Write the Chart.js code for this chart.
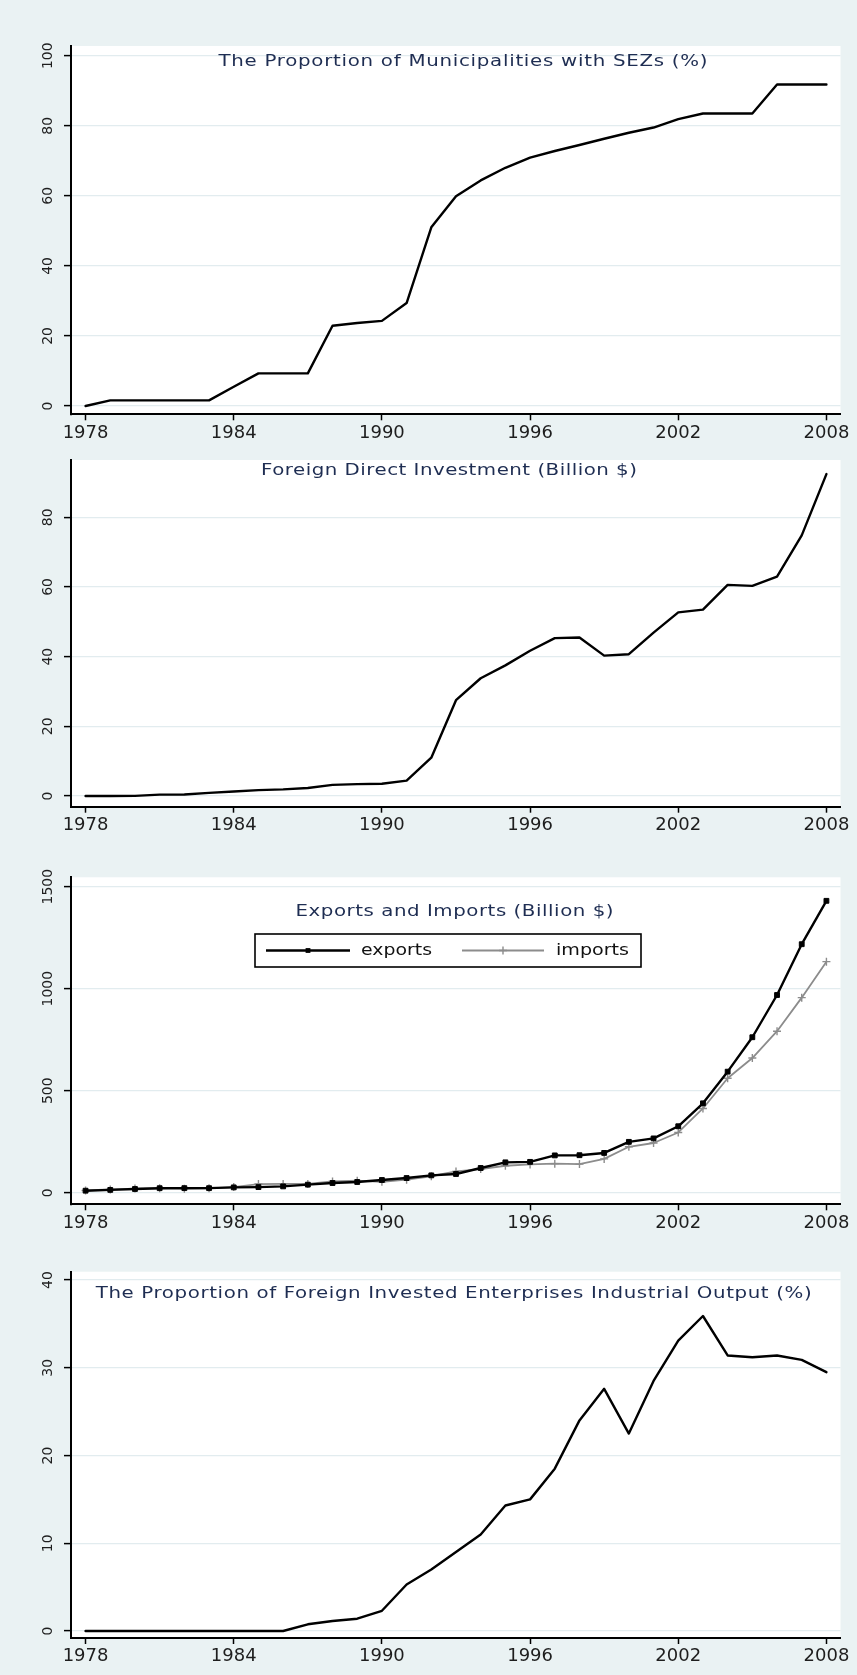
<!DOCTYPE html>
<html>
<head>
<meta charset="utf-8">
<title>SEZs, FDI, Trade and FIE Output, 1978-2008</title>
<script src="https://cdn.jsdelivr.net/npm/chart.js@4.4.1/dist/chart.umd.min.js"></script>
<style>
  html, body { margin:0; padding:0; background:#eaf2f3; }
  #page { position:relative; width:857px; height:1675px; background:#eaf2f3; overflow:hidden; }
  .panel { position:absolute; left:0; width:857px; }
  .panel canvas { display:block; }
</style>
</head>
<body>
<div id="page">
  <div class="panel" style="top:0px;height:450px"><canvas id="p1"></canvas></div>
  <div class="panel" style="top:450px;height:395px"><canvas id="p2"></canvas></div>
  <div class="panel" style="top:845px;height:405px"><canvas id="p3"></canvas></div>
  <div class="panel" style="top:1250px;height:425px"><canvas id="p4"></canvas></div>
</div>
<script>
// ---------------- data ----------------
const years = [1978,1979,1980,1981,1982,1983,1984,1985,1986,1987,1988,1989,1990,1991,1992,1993,1994,1995,1996,1997,1998,1999,2000,2001,2002,2003,2004,2005,2006,2007,2008];
const xTickYears = [1978,1984,1990,1996,2002,2008];

const sezShare = [0,1.6,1.6,1.6,1.6,1.6,5.5,9.3,9.3,9.3,22.9,23.7,24.3,29.4,51.0,59.9,64.4,68.0,70.9,72.8,74.5,76.3,78.0,79.5,81.9,83.5,83.5,83.5,91.8,91.8,91.8];
const fdiBillion = [0,0,0.05,0.4,0.45,0.9,1.3,1.7,1.9,2.3,3.2,3.4,3.5,4.4,11.0,27.5,33.8,37.5,41.7,45.3,45.5,40.3,40.7,46.9,52.7,53.5,60.6,60.3,63.0,74.8,92.4];
const exportsBillion = [9.8,13.7,18.1,22.0,22.3,22.2,26.1,27.4,30.9,39.4,47.5,52.5,62.1,71.8,84.9,91.7,121.0,148.8,151.1,182.8,183.7,194.9,249.2,266.1,325.6,438.2,593.3,762.0,969.0,1218.0,1430.7];
const importsBillion = [10.9,15.7,20.0,22.0,19.3,21.4,27.4,42.3,42.9,43.2,55.3,59.1,53.3,63.8,80.6,104.0,115.6,132.1,138.8,142.4,140.2,165.7,225.1,243.6,295.2,412.8,561.2,660.0,791.5,956.1,1132.6];
const fieOutputShare = [0,0,0,0,0,0,0,0,0,0.76,1.14,1.4,2.3,5.3,7.0,9.0,11.0,14.3,15.0,18.5,24.0,27.6,22.5,28.5,33.1,35.9,31.4,31.2,31.4,30.9,29.5];

const sezTicks = [0,20,40,60,80,100];
const fdiTicks = [0,20,40,60,80];
const tradeTicks = [0,500,1000,1500];
const fieTicks = [0,10,20,30,40];

const panelTitles = [
  "The Proportion of Municipalities with SEZs (%)",
  "Foreign Direct Investment (Billion $)",
  "Exports and Imports (Billion $)",
  "The Proportion of Foreign Invested Enterprises Industrial Output (%)"
];
const tradeSeriesNames = ["exports", "imports"];

// ---------------- style ----------------
const FONT = '"DejaVu Sans", "Liberation Sans", sans-serif';
const STYLE = {
  plot: '#ffffff', grid: '#e2ecef', axis: '#000000', title: '#1e2d52', tick: '#1e1e1e',
  xMin: 1977.41, xMax: 2008.57, plotLeft: 71, plotRight: 840.5, width: 857,
  yLabelCenter: 48, yTickLen: 7, yFont: 14, xFont: 18, titleFont: 16.5, legendFont: 16, maxStretch: 1.2
};

const mctx = document.createElement('canvas').getContext('2d');
function textWidth(t, size) { mctx.font = size + 'px ' + FONT; return mctx.measureText(t).width; }

function toPoints(arr) { return years.map((yr, i) => ({ x: yr, y: arr[i] })); }

function drawFitted(ctx, text, cx, cy, targetW, font, color) {
  ctx.save();
  ctx.font = font;
  ctx.fillStyle = color;
  ctx.textBaseline = 'middle';
  ctx.textAlign = 'left';
  const base = ctx.measureText(text).width;
  let sx = Math.min(STYLE.maxStretch, targetW / base);
  if ('letterSpacing' in ctx) {
    const ls = (targetW / sx - base) / Math.max(1, text.length - 1);
    ctx.letterSpacing = ls.toFixed(2) + 'px';
  } else {
    sx = targetW / base;
  }
  ctx.translate(cx - targetW / 2, cy);
  ctx.scale(sx, 1);
  ctx.fillText(text, 0, 0);
  ctx.restore();
}

function drawLegend(chart, L) {
  const ctx = chart.ctx;
  ctx.save();
  ctx.fillStyle = '#ffffff';
  ctx.fillRect(L.x, L.y, L.w, L.h);
  ctx.lineWidth = 1.6;
  ctx.strokeStyle = '#000000';
  ctx.strokeRect(L.x, L.y, L.w, L.h);
  const cy = L.y + L.h / 2;
  chart.data.datasets.forEach((ds, i) => {
    const it = L.items[i];
    ctx.beginPath();
    ctx.strokeStyle = ds.borderColor;
    ctx.lineWidth = ds.borderWidth;
    ctx.moveTo(it.x0, cy); ctx.lineTo(it.x1, cy);
    ctx.stroke();
    const mx = (it.x0 + it.x1) / 2;
    if (ds.pointStyle === 'rect') {
      const s = ds.pointRadius * Math.SQRT2;
      ctx.fillStyle = ds.pointBackgroundColor;
      ctx.fillRect(mx - s / 2, cy - s / 2, s, s);
    } else if (ds.pointStyle === 'cross') {
      const r = ds.pointRadius;
      ctx.beginPath();
      ctx.strokeStyle = ds.pointBorderColor;
      ctx.lineWidth = ds.pointBorderWidth;
      ctx.moveTo(mx - r, cy); ctx.lineTo(mx + r, cy);
      ctx.moveTo(mx, cy - r); ctx.lineTo(mx, cy + r);
      ctx.stroke();
    }
    drawFitted(ctx, ds.label, it.tx + it.tw / 2, cy, it.tw, STYLE.legendFont + 'px ' + FONT, '#111111');
  });
  ctx.restore();
}

const decor = {
  id: 'decor',
  beforeDraw(chart, args, o) {
    const { ctx, chartArea: a } = chart;
    ctx.save();
    ctx.fillStyle = STYLE.plot;
    ctx.fillRect(a.left, a.top, a.right - a.left, a.bottom - a.top);
    ctx.restore();
  },
  afterDraw(chart, args, o) {
    if (o.title) drawFitted(chart.ctx, o.title, o.titleX, o.titleY, o.titleW, STYLE.titleFont + 'px ' + FONT, STYLE.title);
    if (o.legend) drawLegend(chart, o.legend);
  }
};

function makePanel(p) {
  const widest = Math.max(...p.yTicks.map(v => textWidth(String(v), STYLE.yFont)));
  const yPad = STYLE.plotLeft - STYLE.yTickLen - STYLE.yLabelCenter - widest / 2;
  return new Chart(document.getElementById(p.id), {
    type: 'line',
    data: { datasets: p.datasets },
    options: {
      responsive: true,
      maintainAspectRatio: false,
      animation: false,
      events: [],
      layout: { autoPadding: false, padding: { top: p.plotTop, right: STYLE.width - STYLE.plotRight, left: 0, bottom: 0 } },
      plugins: {
        legend: { display: false },
        tooltip: { enabled: false },
        title: { display: false },
        decor: { title: p.title, titleX: p.titleX, titleY: p.titleY, titleW: p.titleW, legend: p.legend || null }
      },
      elements: { line: { tension: 0, borderJoinStyle: 'round', borderCapStyle: 'round' } },
      scales: {
        x: {
          type: 'linear', min: STYLE.xMin, max: STYLE.xMax,
          afterBuildTicks: s => { s.ticks = xTickYears.map(v => ({ value: v })); },
          afterFit: s => { s.height = p.h - p.axisY; s.paddingLeft = 0; s.paddingRight = 0; },
          grid: { drawOnChartArea: false, drawTicks: true, tickLength: 6, tickColor: STYLE.axis, tickWidth: 1.5 },
          border: { display: true, color: STYLE.axis, width: 2 },
          ticks: { autoSkip: false, maxRotation: 0, minRotation: 0, padding: 2, color: STYLE.tick,
                   font: { family: FONT, size: STYLE.xFont }, callback: v => String(v) }
        },
        y: {
          type: 'linear', min: p.yMin, max: p.yMax,
          afterBuildTicks: s => { s.ticks = p.yTicks.map(v => ({ value: v })); },
          afterFit: s => { s.width = STYLE.plotLeft; s.paddingTop = 0; s.paddingBottom = 0; },
          grid: { color: STYLE.grid, lineWidth: 1.2, drawTicks: true, tickLength: STYLE.yTickLen, tickColor: STYLE.axis, tickWidth: 1.5 },
          border: { display: true, color: STYLE.axis, width: 2 },
          ticks: { autoSkip: false, minRotation: 90, maxRotation: 90, crossAlign: 'center', padding: yPad,
                   color: STYLE.tick, font: { family: FONT, size: STYLE.yFont }, callback: v => String(v) }
        }
      }
    },
    plugins: [decor]
  });
}

function singleLine(label, arr) {
  return { label: label, data: toPoints(arr), borderColor: '#000000', borderWidth: 2.4, pointRadius: 0, fill: false };
}

makePanel({
  id: 'p1', h: 450, plotTop: 46, axisY: 414.3, yMin: -2.37, yMax: 102.77, yTicks: sezTicks,
  title: panelTitles[0], titleX: 463, titleY: 61.7, titleW: 489,
  datasets: [singleLine(panelTitles[0], sezShare)]
});

makePanel({
  id: 'p2', h: 395, plotTop: 10, axisY: 356.7, yMin: -3.07, yMax: 96.44, yTicks: fdiTicks,
  title: panelTitles[1], titleX: 449, titleY: 21, titleW: 376,
  datasets: [singleLine(panelTitles[1], fdiBillion)]
});

makePanel({
  id: 'p3', h: 405, plotTop: 32.3, axisY: 359.3, yMin: -56.9, yMax: 1546, yTicks: tradeTicks,
  title: panelTitles[2], titleX: 454.5, titleY: 66.7, titleW: 318,
  legend: { x: 255, y: 89, w: 386, h: 33,
            items: [ { x0: 266, x1: 350, tx: 361, tw: 71 }, { x0: 462, x1: 544, tx: 556, tw: 73 } ] },
  datasets: [
    { label: tradeSeriesNames[0], data: toPoints(exportsBillion), borderColor: '#000000', borderWidth: 2.4,
      pointStyle: 'rect', pointRadius: 3.4, pointBackgroundColor: '#000000', pointBorderColor: '#000000', pointBorderWidth: 1, fill: false },
    { label: tradeSeriesNames[1], data: toPoints(importsBillion), borderColor: '#8c8c8c', borderWidth: 1.8,
      pointStyle: 'cross', pointRadius: 4, pointBackgroundColor: '#8c8c8c', pointBorderColor: '#8c8c8c', pointBorderWidth: 1.4, fill: false }
  ]
});

makePanel({
  id: 'p4', h: 425, plotTop: 21.7, axisY: 388, yMin: -0.8, yMax: 40.95, yTicks: fieTicks,
  title: panelTitles[3], titleX: 453.7, titleY: 44, titleW: 716,
  datasets: [singleLine(panelTitles[3], fieOutputShare)]
});
</script>
</body>
</html>
